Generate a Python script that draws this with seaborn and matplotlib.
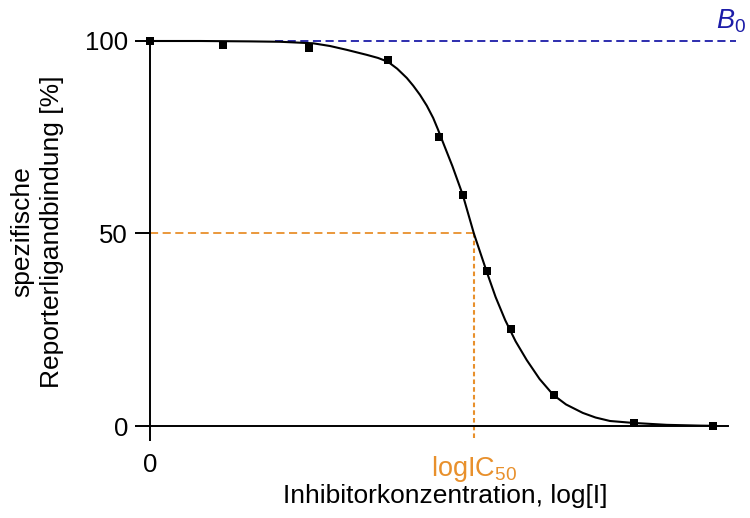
import matplotlib
matplotlib.use("Agg")
import matplotlib.pyplot as plt
import seaborn as sns
import pandas as pd

# measured points (x in log units, y in %)
point_x = [0.0, 0.91, 1.99, 2.975, 3.61, 3.91, 4.21, 4.51, 5.05, 6.05, 7.04]
point_y = [100.0, 99.0, 98.2, 95.1, 75.1, 60.0, 40.3, 25.2, 8.0, 0.8, 0.0]

# fitted curve
curve_x = [0.0, 0.625, 1.25, 1.625, 2.04, 2.25, 2.46, 2.71, 2.85, 2.975, 3.09, 3.21,
           3.29, 3.375, 3.46, 3.54, 3.60, 3.66, 3.78, 3.91, 4.05, 4.21, 4.32, 4.44,
           4.57, 4.71, 4.87, 5.04, 5.20, 5.41, 5.57, 5.75, 6.04, 6.46, 6.875, 7.04]
curve_y = [100.0, 100.0, 99.9, 99.8, 99.4, 98.7, 97.7, 96.4, 95.6, 94.6, 92.8, 90.4,
           88.4, 86.0, 83.2, 80.0, 77.0, 73.8, 67.5, 60.0, 49.9, 40.0, 33.5, 27.5,
           22.0, 17.1, 12.2, 8.1, 5.6, 3.4, 2.2, 1.3, 0.8, 0.3, 0.1, 0.05]

log_ic50 = 4.05
b0_level = 100.0
b0_start = 1.56
x_max = 7.225
y_ticks = [0, 50, 100]
x_tick_labels = ["0", "logIC$_{50}$"]

sns.set_style("ticks")
plt.rcParams['font.family'] = ['Liberation Sans', 'DejaVu Sans']
plt.rcParams['mathtext.fontset'] = 'custom'
plt.rcParams['mathtext.rm'] = 'Liberation Sans'
plt.rcParams['mathtext.it'] = 'Liberation Sans:italic'
plt.rcParams['text.color'] = 'black'

blue = "#1c1ca8"
orange = "#e8902c"

fig = plt.figure(figsize=(7.5, 5.18), dpi=100)
ax = fig.add_axes([150 / 750, (518 - 426) / 518, 578 / 750, (426 - 21.75) / 518])

df_curve = pd.DataFrame({"x": curve_x, "y": curve_y})
df_pts = pd.DataFrame({"x": point_x, "y": point_y})

# B0 dashed line
ax.plot([b0_start, x_max + 0.1], [b0_level, b0_level], color=blue, lw=1.3,
        dashes=(4.5, 2.5), clip_on=False, zorder=1)
ax.text(7.08, 101.5, "$B_0$", color=blue, fontsize=19.5, ha="left", va="bottom",
        clip_on=False)

# IC50 guides
ax.plot([0, log_ic50], [50, 50], color=orange, lw=1.3, dashes=(4.5, 2.5), zorder=1)
ax.plot([log_ic50, log_ic50], [50, -3.8], color=orange, lw=1.5, dashes=(2.2, 1.5),
        clip_on=False, zorder=1)

sns.lineplot(data=df_curve, x="x", y="y", ax=ax, color="black", lw=1.5,
             sort=False, zorder=3)
sns.scatterplot(data=df_pts, x="x", y="y", ax=ax, marker="s", s=40,
                color="black", edgecolor="black", linewidth=0, zorder=4,
                clip_on=False)

ax.set_xlim(0, x_max)
ax.set_ylim(0, 105)
ax.spines['top'].set_visible(False)
ax.spines['right'].set_visible(False)
ax.spines['left'].set_bounds(0, 100)
for s in ['left', 'bottom']:
    ax.spines[s].set_linewidth(1.4)
    ax.spines[s].set_color("black")

ax.set_yticks(y_ticks)
ax.set_yticklabels([str(v) for v in y_ticks], fontsize=18.5)
ax.set_xticks([0, log_ic50])
ax.set_xticklabels(x_tick_labels, fontsize=18.5)
ax.tick_params(axis='y', length=10.8, width=1.4, pad=5, colors="black")
ax.tick_params(axis='x', length=10.8, width=1.4, pad=9, colors="black")
xt = ax.xaxis.get_major_ticks()
xt[1].tick1line.set_visible(False)
xt[1].label1.set_color(orange)
xt[1].label1.set_fontsize(19.5)

ax.set_xlabel("")
ax.set_ylabel("")
fig.text(445 / 750, 1 - 496 / 518, "Inhibitorkonzentration, log[I]", fontsize=19,
         ha="center", va="center", color="black")
fig.text(37 / 750, 1 - 232 / 518, "spezifische\nReporterligandbindung [%]",
         fontsize=19, rotation=90, ha="center", va="center", color="black",
         multialignment="center", linespacing=1.3)

fig.savefig("out.png", dpi=100)
